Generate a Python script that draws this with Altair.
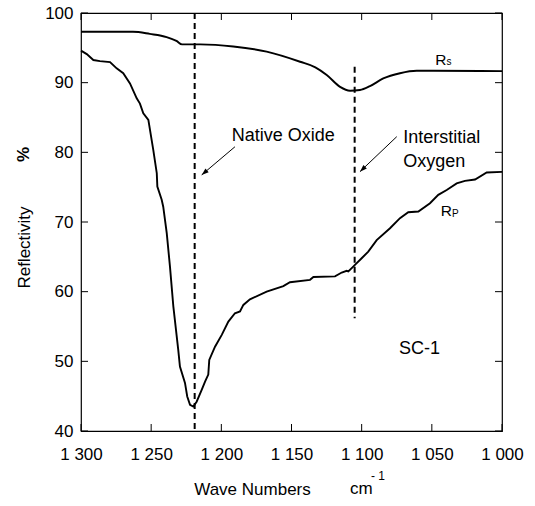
import altair as alt
import pandas as pd

# ---------------- data ----------------
rs_wn = [1300, 1280, 1263, 1251, 1239, 1232, 1228, 1215, 1191.5, 1167.7, 1143.9,
         1133, 1124.9, 1115.4, 1108.3, 1101.2, 1094.1, 1084.6, 1072.7, 1060.8,
         1048.9, 1000]
rs_val = [97.3, 97.3, 97.3, 97.0, 96.55, 96.0, 95.5, 95.5, 95.2, 94.45, 93.0,
          92.2, 91.1, 89.4, 88.85, 88.95, 89.5, 90.6, 91.35, 91.7,
          91.7, 91.65]

rp_wn = [1300, 1295.9, 1291.2, 1286.5, 1279.3, 1274.6, 1269.9, 1265.1, 1260.3, 1258,
         1255.6, 1252, 1248.5, 1246, 1245.6, 1242.5, 1241.4, 1238.9, 1236.6, 1234.2,
         1230.7, 1229.5, 1225.9, 1224.3, 1222.3, 1220, 1217.6, 1214, 1211.6, 1209.3,
         1208.6, 1204.5, 1199.7, 1195, 1190.3, 1186.7, 1184.3, 1179.6, 1167.7, 1155.8,
         1151.1, 1136.8, 1134.4, 1119, 1114.2, 1110.7, 1109.5, 1106, 1104.8, 1100,
         1095.3, 1089.3, 1079.8, 1072.7, 1066.8, 1059.6, 1051.3, 1045.4, 1039.4, 1032.3,
         1026.4, 1019.2, 1010.9, 1000]
rp_val = [94.6, 94.1, 93.25, 93.1, 92.95, 92.05, 91.35, 89.9, 87.75, 87.0,
          85.6, 84.65, 80.35, 77.0, 75.1, 73.2, 72.2, 68.4, 63.6, 57.9,
          51.65, 49.25, 46.9, 44.95, 43.75, 43.5, 44.2, 45.9, 47.1, 48.1,
          50.2, 52.1, 53.8, 55.7, 56.9, 57.15, 58.1, 58.9, 60.0, 60.8,
          61.35, 61.7, 62.1, 62.2, 62.75, 63.0, 62.9, 63.6, 63.85, 64.8,
          65.75, 67.4, 69.1, 70.55, 71.4, 71.5, 72.7, 73.9, 74.6, 75.55,
          75.9, 76.1, 77.1, 77.2]

x_ticks = [1300, 1250, 1200, 1150, 1100, 1050, 1000]
y_ticks = [40, 50, 60, 70, 80, 90, 100]

# dashed marker lines: position, top, bottom
mark_wn = [1219, 1105]
mark_top = [100, 92.3]
mark_bot = [40, 56.2]

# arrows: tail (x, y) -> head (x2, y2)
arrow_x = [1190.3, 1075.0]
arrow_y = [80.8, 82.25]
arrow_x2 = [1214.0, 1101.2]
arrow_y2 = [76.76, 77.23]
arrow_angle = [229.6, 226.4]

note_text = ["Native Oxide", "Interstitial", "Oxygen", "SC-1"]
note_wn = [1192.6, 1070.3, 1070.3, 1073.4]
note_val = [81.68, 81.3, 77.95, 51.0]

FONT = "Liberation Sans"
W, H = 421, 418

xs = alt.Scale(domain=[1300, 1000], nice=False, zero=False)
ys = alt.Scale(domain=[40, 100], nice=False, zero=False)

x_axis = alt.Axis(values=x_ticks, ticks=False, domain=False, grid=False,
                  labelFlush=False, labelOverlap=False, labelPadding=15,
                  labelFontSize=17, labelFont=FONT, labelColor="black",
                  labelExpr="replace(format(datum.value, ','), ',', ' ')",
                  title="Wave Numbers", titleFont=FONT, titleFontSize=17,
                  titleFontWeight="normal", titleColor="black",
                  titleX=171, titleY=63, titleAlign="center",
                  titleBaseline="alphabetic", titleAnchor="middle")
y_axis = alt.Axis(values=y_ticks, ticks=False, domain=False, grid=False,
                  labelFlush=False, labelOverlap=False, labelPadding=8,
                  labelFontSize=17, labelFont=FONT, labelColor="black",
                  title="Reflectivity", titleFont=FONT, titleFontSize=17,
                  titleFontWeight="normal", titleColor="black",
                  titleX=-52, titleY=234, titleAngle=270, titleAlign="center",
                  titleBaseline="alphabetic", titleAnchor="middle")


def X(f):
    return alt.X(f, type="quantitative", scale=xs, axis=x_axis)


def Y(f):
    return alt.Y(f, type="quantitative", scale=ys, axis=y_axis)


rs_df = pd.DataFrame({"wn": rs_wn, "val": rs_val})
rp_df = pd.DataFrame({"wn": rp_wn, "val": rp_val})

rs_line = alt.Chart(rs_df).mark_line(color="black", strokeWidth=1.9,
                                     interpolate="monotone").encode(x=X("wn"), y=Y("val"))
rp_line = alt.Chart(rp_df).mark_line(color="black", strokeWidth=1.9).encode(
    x=X("wn"), y=Y("val"))

mk_df = pd.DataFrame({"wn": mark_wn, "val": mark_top, "val2": mark_bot})
dashed = alt.Chart(mk_df).mark_rule(color="black", strokeWidth=2, strokeDash=[6, 4]).encode(
    x=X("wn"), y=Y("val"), y2=alt.Y2("val2"))

ar_df = pd.DataFrame({"wn": arrow_x, "val": arrow_y, "wn2": arrow_x2, "val2": arrow_y2,
                      "ang": arrow_angle})
arrow_lines = alt.Chart(ar_df).mark_rule(color="black", strokeWidth=1).encode(
    x=X("wn"), y=Y("val"), x2=alt.X2("wn2"), y2=alt.Y2("val2"))
arrow_heads = alt.Chart(ar_df).mark_point(
    shape="M0,0 L0.35,1 L-0.35,1 Z", filled=True, color="black", size=200, opacity=1
).encode(x=X("wn2"), y=Y("val2"), angle=alt.Angle("ang", type="quantitative", scale=None))

nt_df = pd.DataFrame({"t": note_text, "wn": note_wn, "val": note_val})
notes = alt.Chart(nt_df).mark_text(font=FONT, fontSize=18, align="left",
                                   baseline="alphabetic", color="black").encode(
    x=X("wn"), y=Y("val"), text="t")

# curve labels R_s and R_P
lab_df = pd.DataFrame({"t": ["R", "R"], "wn": [1047.5, 1043.7], "val": [92.54, 70.9]})
sub_df = pd.DataFrame({"t": ["s", "P"], "wn": [1039.5, 1035.6], "val": [92.54, 70.77]})
labels = alt.Chart(lab_df).mark_text(font=FONT, fontSize=15.5, align="left",
                                     baseline="alphabetic", color="black").encode(
    x=X("wn"), y=Y("val"), text="t")
subs = alt.Chart(sub_df).mark_text(font=FONT, fontSize=10, align="left",
                                   baseline="alphabetic", color="black").encode(
    x=X("wn"), y=Y("val"), text="t")

# inward ticks on all four sides
xt_df = pd.DataFrame({"wn": x_ticks})
yt_df = pd.DataFrame({"val": y_ticks})
tick_b = alt.Chart(xt_df).mark_rule(color="black", strokeWidth=1).encode(
    x=X("wn"), y=alt.value(H), y2=alt.value(H - 7))
tick_t = alt.Chart(xt_df).mark_rule(color="black", strokeWidth=1).encode(
    x=X("wn"), y=alt.value(0), y2=alt.value(7))
tick_l = alt.Chart(yt_df).mark_rule(color="black", strokeWidth=1).encode(
    y=Y("val"), x=alt.value(0), x2=alt.value(7))
tick_r = alt.Chart(yt_df).mark_rule(color="black", strokeWidth=1).encode(
    y=Y("val"), x=alt.value(W), x2=alt.value(W - 7))

# axis title pieces
pct = alt.Chart(pd.DataFrame({"t": ["%"], "val": [79.7]})).mark_text(
    font=FONT, fontSize=17, fontWeight="bold", angle=270, align="center",
    baseline="alphabetic", color="black").encode(
    x=alt.value(-52), y=Y("val"), text="t")
cm = alt.Chart(pd.DataFrame({"t": ["cm"]})).mark_text(
    font=FONT, fontSize=17, align="left", baseline="alphabetic", color="black").encode(
    x=alt.value(269), y=alt.value(481), text="t")
sup = alt.Chart(pd.DataFrame({"t": ["-  1"]})).mark_text(
    font=FONT, fontSize=12, align="left", baseline="alphabetic", color="black").encode(
    x=alt.value(290), y=alt.value(467), text="t")

chart = alt.layer(
    tick_b, tick_t, tick_l, tick_r, dashed, rs_line, rp_line, arrow_lines, arrow_heads,
    notes, labels, subs, pct, cm, sup
).properties(
    width=W, height=H,
    autosize=alt.AutoSizeParams(type="none"),
    padding={"left": 81, "top": 13, "right": 33, "bottom": 75},
    background="white",
).configure_view(stroke="black", strokeWidth=1.2)

chart.save("out.html", embed_options={"renderer": "svg", "actions": False})
